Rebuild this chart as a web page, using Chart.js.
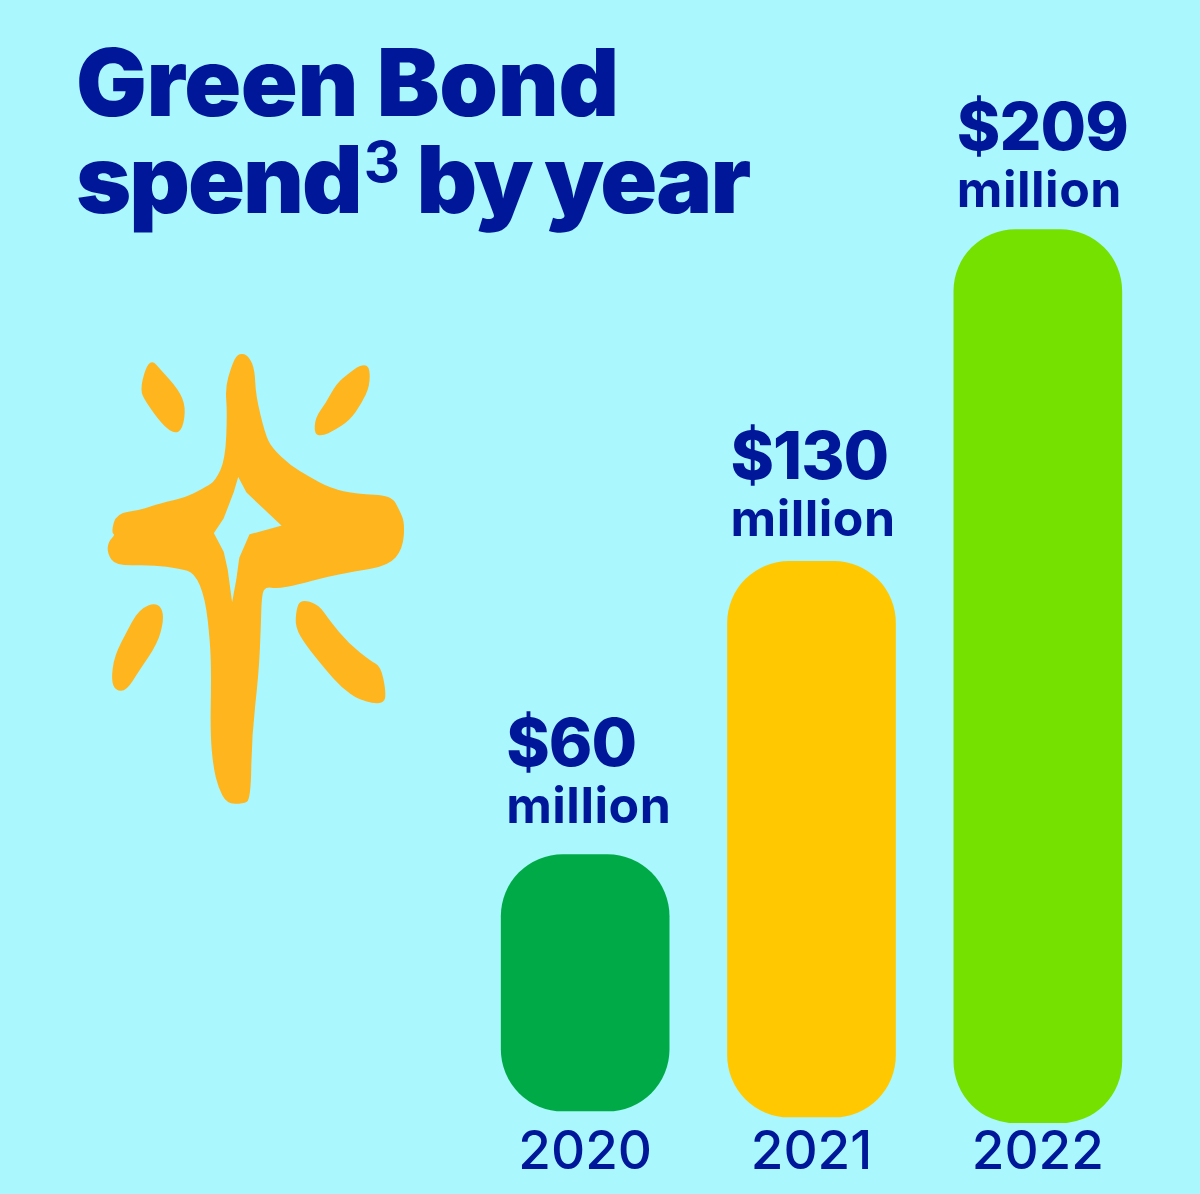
<!DOCTYPE html>
<html><head><meta charset="utf-8">
<style>
html,body{margin:0;padding:0;background:#AAF7FD;width:1200px;height:1194px;overflow:hidden}
#wrap{position:relative;width:1200px;height:1194px}
canvas{position:absolute;left:0;top:0}
h1{position:absolute;left:76px;top:34px;margin:0;font:900 94px/97px Inter,sans-serif;color:#00179A;letter-spacing:-0.3px;white-space:nowrap}
h1 .l2{letter-spacing:-2px}
h1 sup{font-size:56px;font-weight:700;line-height:0;vertical-align:baseline;position:relative;top:-31px;letter-spacing:0;margin-left:3px}
h1 .w{margin-left:-4px}
svg{position:absolute;left:0;top:0}
</style></head><body>
<div id="wrap">
<canvas id="c" width="1200" height="1194"></canvas>
<svg width="1200" height="1194"><g id="star" fill="#FFB51E" stroke="#FFB51E" stroke-width="1.5" stroke-linejoin="round" fill-rule="evenodd"></g></svg>
<h1>Green Bond<br><span class="l2">spend<sup>3</sup> by <span class="w">year</span></span></h1>
</div>
<script src="https://cdn.jsdelivr.net/npm/chart.js@4/dist/chart.umd.min.js"></script>
<script>
const categories = ["2020", "2021", "2022"];
const spend = [60, 130, 209];
const barBase = [-0.2, -1.6, -3];
const barColors = ["#00AB47", "#FFC800", "#74E100"];
const unitLabel = "million";
const ink = "#00179A";
const labelGap = [32, 25, 23];
const labelInset = [5, 3, 3];

// Decorative brush-stroke star (not data)
const starBody = "243 354,249 358,254 370,255 395,264 433,271 448,290 466,308 477,330 489,357 495,391 496,399 511,404 523,402 549,388 565,353 571,327 576,297 584,277 588,266 586,261 593,260 630,258 673,251 737,250 799,243 803,227 803,219 787,214 767,211 733,212 677,211 643,206 598,195 572,180 568,153 564,116 565,108 553,109 542,116 535,112 532,117 514,140 511,160 504,187 498,207 487,216 481,226 460,228 412,226 388,232 367,237 356";
const starHole = "238 475,247 492,283 526,250 535,240 558,237 580,232 607,227 570,223 552,213 533,223 518,233 492";
const starSparks = [
  "152 361,159 369,178 390,185 407,182 429,174 433,162 423,146 401,141 390,146 369",
  "369 366,369 386,361 403,349 420,333 430,323 435,315 434,316 418,326 404,337 384,349 374,360 366",
  "154 604,161 608,163 620,157 643,138 671,126 690,116 690,112 680,115 656,129 629,136 616,144 608",
  "301 600,318 605,329 621,348 644,371 662,380 667,385 690,384 704,360 700,342 687,326 669,306 644,296 627,297 610"
];
const toPts = s => s.split(",").map(p => p.split(" ").map(Number));
const smooth = s => {
  const p = toPts(s), n = p.length;
  const mid = (a, b) => [(a[0] + b[0]) / 2, (a[1] + b[1]) / 2];
  let m = mid(p[n - 1], p[0]), d = `M${m[0]} ${m[1]}`;
  p.forEach((q, i) => { const e = mid(q, p[(i + 1) % n]); d += `Q${q[0]} ${q[1]} ${e[0]} ${e[1]}`; });
  return d + "Z";
};
const sharp = s => "M" + toPts(s).map(q => q.join(" ")).join("L") + "Z";
const starGroup = document.getElementById("star");
const addPath = d => {
  const el = document.createElementNS("http://www.w3.org/2000/svg", "path");
  el.setAttribute("d", d);
  starGroup.appendChild(el);
};
addPath(smooth(starBody) + sharp(starHole));
starSparks.forEach(s => addPath(smooth(s)));

const valueLabels = {
  id: "valueLabels",
  afterDatasetsDraw(chart) {
    const ctx = chart.ctx;
    const bars = chart.getDatasetMeta(0).data;
    ctx.save();
    ctx.fillStyle = ink;
    ctx.textAlign = "left";
    ctx.textBaseline = "alphabetic";
    bars.forEach((bar, i) => {
      const left = bar.x - 84 + labelInset[i];
      const top = bar.y;
      const gap = labelGap[i];
      ctx.font = "800 66px Inter, sans-serif";
      ctx.letterSpacing = "-1px";
      ctx.fillText("$" + spend[i], left, top - gap - 57);
      ctx.font = "700 50px Inter, sans-serif";
      ctx.letterSpacing = "0.5px";
      ctx.fillText(unitLabel, left, top - gap);
    });
    ctx.restore();
  }
};

new Chart(document.getElementById("c"), {
  type: "bar",
  data: {
    labels: categories,
    datasets: [{
      data: spend.map((v, i) => [barBase[i], barBase[i] + v]),
      backgroundColor: barColors,
      borderRadius: 62,
      borderSkipped: false,
      barThickness: 168
    }]
  },
  plugins: [valueLabels],
  options: {
    responsive: false,
    animation: false,
    layout: { padding: { left: 472, right: 49, top: 100, bottom: 10 } },
    plugins: { legend: { display: false }, tooltip: { enabled: false }, title: { display: false } },
    scales: {
      x: {
        grid: { display: false, drawTicks: false },
        border: { display: false },
        ticks: { color: ink, font: { family: "Inter, sans-serif", size: 53, weight: "500", lineHeight: 1 }, padding: 4, maxRotation: 0 }
      },
      y: { display: false, min: -3, max: 236.3 }
    }
  }
});
</script>
</body></html>
